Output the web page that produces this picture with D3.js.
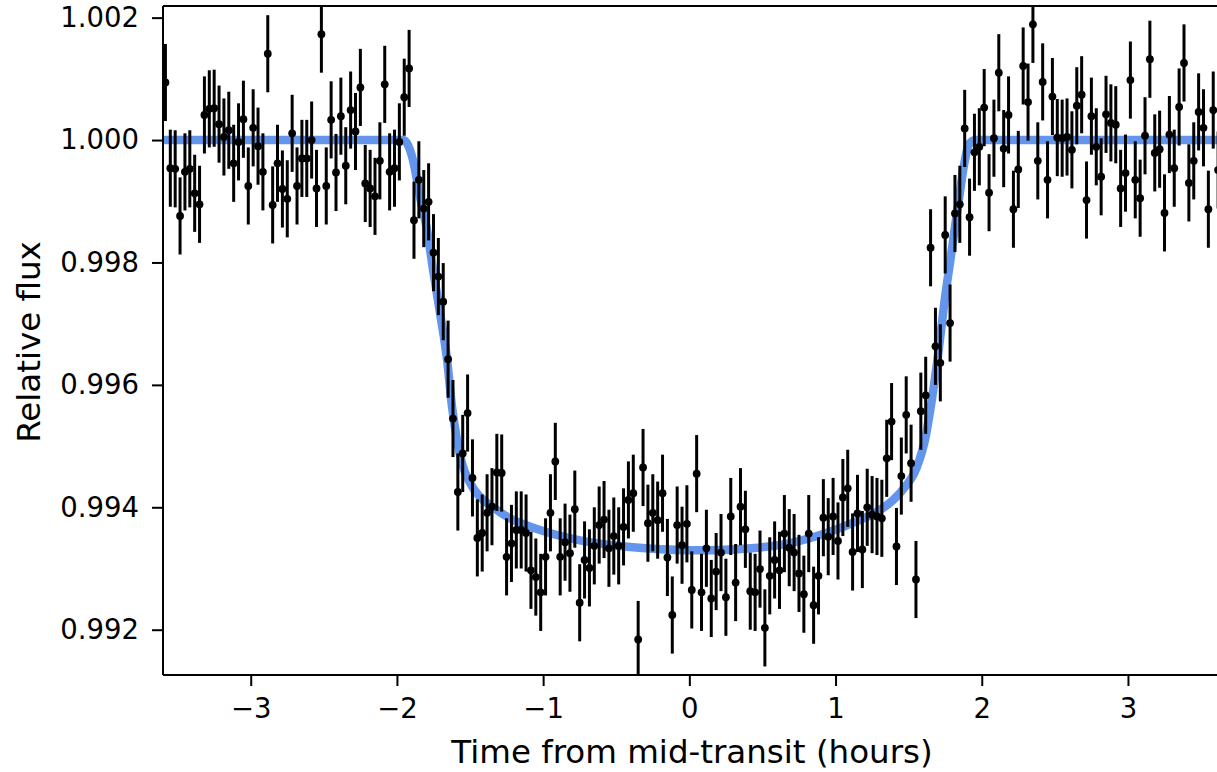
<!DOCTYPE html>
<html>
<head>
<meta charset="utf-8">
<script src="https://cdnjs.cloudflare.com/ajax/libs/d3/7.8.5/d3.min.js"></script>
<style>
body { margin: 0; background: #fff; }
svg { display: block; font-family: "DejaVu Sans", sans-serif; }
</style>
</head>
<body>
<svg id="chart"></svg>
<script>
var screen = {width: 1217, height: 772}
var plot = {left: 163, top: 6, right: 1218.6, bottom: 675}

// time from mid-transit, minutes (2-min cadence)
var timeMin = [
 -215,-213,-211,-209,-207,-205,-203,-201,-199,-197,
 -195,-193,-191,-189,-187,-185,-183,-181,-179,-177,
 -175,-173,-171,-169,-167,-165,-163,-161,-159,-157,
 -155,-153,-151,-149,-147,-145,-143,-141,-139,-137,
 -135,-133,-131,-129,-127,-125,-123,-121,-119,-117,
 -115,-113,-111,-109,-107,-105,-103,-101,-99,-97,
 -95,-93,-91,-89,-87,-85,-83,-81,-79,-77,
 -75,-73,-71,-69,-67,-65,-63,-61,-59,-57,
 -55,-53,-51,-49,-47,-45,-43,-41,-39,-37,
 -35,-33,-31,-29,-27,-25,-23,-21,-19,-17,
 -15,-13,-11,-9,-7,-5,-3,-1,1,3,
 5,7,9,11,13,15,17,19,21,23,
 25,27,29,31,33,35,37,39,41,43,
 45,47,49,51,53,55,57,59,61,63,
 65,67,69,71,73,75,77,79,81,83,
 85,87,89,91,93,95,97,99,101,103,
 105,107,109,111,113,115,117,119,121,123,
 125,127,129,131,133,135,137,139,141,143,
 145,147,149,151,153,155,157,159,161,163,
 165,167,169,171,173,175,177,179,181,183,
 185,187,189,191,193,195,197,199,201,203,
 205,207,209,211,213,215,217
]

var flux = [
 1.00094,0.99954,0.99953,0.99876,0.99948,0.99953,0.99913,0.99895,1.00041,1.00051,
 1.00052,1.00026,1.00005,1.00016,0.99962,0.99997,1.00034,0.99925,1.00020,0.99990,
 0.99948,1.00141,0.99894,0.99962,0.99920,0.99904,1.00011,0.99925,0.99970,0.99970,
 1.00000,0.99921,1.00173,0.99925,1.00033,0.99947,1.00039,0.99958,1.00049,1.00014,
 1.00086,0.99929,0.99921,0.99908,0.99966,1.00091,0.99948,0.99954,0.99997,1.00070,
 1.00117,0.99869,0.99935,0.99888,0.99899,0.99816,0.99777,0.99736,0.99642,0.99545,
 0.99425,0.99488,0.99554,0.99448,0.99350,0.99358,0.99391,0.99401,0.99457,0.99456,
 0.99319,0.99341,0.99363,0.99363,0.99358,0.99297,0.99286,0.99261,0.99319,0.99391,
 0.99475,0.99319,0.99343,0.99325,0.99397,0.99244,0.99314,0.99301,0.99337,0.99371,
 0.99380,0.99333,0.99353,0.99337,0.99368,0.99412,0.99423,0.99184,0.99465,0.99374,
 0.99391,0.99379,0.99423,0.99318,0.99224,0.99371,0.99338,0.99373,0.99265,0.99455,
 0.99261,0.99333,0.99251,0.99295,0.99326,0.99253,0.99385,0.99277,0.99401,0.99364,
 0.99263,0.99261,0.99299,0.99203,0.99288,0.99314,0.99297,0.99357,0.99334,0.99326,
 0.99292,0.99258,0.99357,0.99240,0.99288,0.99383,0.99352,0.99385,0.99345,0.99416,
 0.99431,0.99327,0.99390,0.99331,0.99400,0.99388,0.99385,0.99382,0.99480,0.99540,
 0.99336,0.99451,0.99551,0.99472,0.99282,0.99557,0.99583,0.99824,0.99663,0.99636,
 0.99845,0.99701,0.99880,0.99895,1.00019,0.99874,0.99980,0.99989,1.00053,0.99914,
 1.00003,1.00110,0.99986,1.00041,0.99887,0.99952,1.00121,1.00062,1.00189,0.99966,
 1.00095,0.99935,1.00071,1.00004,1.00003,1.00005,0.99984,1.00056,1.00074,0.99902,
 1.00039,0.99989,0.99940,1.00042,1.00028,1.00025,0.99921,0.99946,1.00098,0.99935,
 0.99905,1.00007,1.00132,0.99979,0.99985,0.99881,1.00009,0.99954,1.00054,1.00126,
 0.99930,0.99966,1.00046,1.00020,0.99887,1.00049,0.99951
]
var fluxErr = 0.00063

// transit model (hours, relative flux)
var modelHours = [-3.6, -1.958, -1.925, -1.89, -1.842, -1.794, -1.753, -1.705, -1.657,
  -1.623, -1.589, -1.555, -1.5, -1.432, -1.343, -1.227, -1.021, -0.748, -0.406, 0,
  0.15, 0.424, 0.698, 0.937, 1.163, 1.279, 1.395, 1.484, 1.539, 1.573, 1.607, 1.655,
  1.703, 1.744, 1.792, 1.84, 1.881, 1.91, 1.955, 3.62]
var modelFlux = [1.0, 1.0, 0.99992, 0.99967, 0.99907, 0.99853, 0.99788, 0.99717, 0.99641,
  0.99564, 0.9951, 0.99472, 0.9944, 0.99417, 0.994, 0.99382, 0.99363, 0.99346, 0.99335, 0.9933,
  0.9933, 0.99333, 0.99342, 0.99358, 0.99379, 0.99392, 0.99412, 0.99436, 0.99456, 0.99477,
  0.99505, 0.9957, 0.99652, 0.99734, 0.99815, 0.99897, 0.99962, 0.99992, 1.0, 1.0]

var xTicks = [-3, -2, -1, 0, 1, 2, 3]
var yTicks = [0.992, 0.994, 0.996, 0.998, 1.000, 1.002]

var svg = d3.select("#chart")
    .attr("width", screen.width)
    .attr("height", screen.height)

var xScale = d3.scaleLinear().domain([-3.6, 3.62]).range([plot.left, plot.right])
var yScale = d3.scaleLinear().domain([0.99126, 1.00219]).range([plot.bottom, plot.top])

svg.append("clipPath").attr("id", "clip")
    .append("rect")
    .attr("x", plot.left).attr("y", plot.top)
    .attr("width", plot.right - plot.left).attr("height", plot.bottom - plot.top)

var points = timeMin.map(function(m, i){ return {t: m / 60, f: flux[i]} })
var model = modelHours.map(function(h, i){ return {t: h, f: modelFlux[i]} })

var inner = svg.append("g").attr("clip-path", "url(#clip)")

// model curve
inner.append("path")
    .datum(model)
    .attr("fill", "none")
    .attr("stroke", "#6495ed")
    .attr("stroke-width", 8.5)
    .attr("stroke-linejoin", "round")
    .attr("d", d3.line()
        .x(function(d){ return xScale(d.t) })
        .y(function(d){ return yScale(d.f) })
        .curve(d3.curveMonotoneX))

// error bars
inner.selectAll("line.err")
    .data(points)
    .enter()
    .append("line")
    .attr("class", "err")
    .attr("x1", function(d){ return xScale(d.t) })
    .attr("x2", function(d){ return xScale(d.t) })
    .attr("y1", function(d){ return yScale(d.f - fluxErr) })
    .attr("y2", function(d){ return yScale(d.f + fluxErr) })
    .attr("stroke", "#000")
    .attr("stroke-width", 3)

inner.selectAll("circle")
    .data(points)
    .enter()
    .append("circle")
    .attr("cx", function(d){ return xScale(d.t) })
    .attr("cy", function(d){ return yScale(d.f) })
    .attr("r", 3.9)
    .attr("fill", "#000")

// axes
var xAxis = d3.axisBottom(xScale).tickValues(xTicks).tickSize(11).tickPadding(12)
    .tickFormat(d3.format("d"))
var yAxis = d3.axisLeft(yScale).tickValues(yTicks).tickSize(11).tickPadding(13)
    .tickFormat(d3.format(".3f"))

var gx = svg.append("g")
    .attr("transform", "translate(0," + plot.bottom + ")")
    .call(xAxis)
var gy = svg.append("g")
    .attr("transform", "translate(" + plot.left + ",0)")
    .call(yAxis)

svg.selectAll(".domain").remove()
svg.selectAll(".tick line").attr("stroke", "#000").attr("stroke-width", 2)
svg.selectAll(".tick text")
    .attr("fill", "#000")
    .style("font-family", "'DejaVu Sans', sans-serif")
    .style("font-size", "27.5px")

// spines
svg.append("line").attr("x1", plot.left).attr("x2", plot.left)
    .attr("y1", plot.top).attr("y2", plot.bottom)
    .attr("stroke", "#000").attr("stroke-width", 2)
svg.append("line").attr("x1", plot.left).attr("x2", screen.width)
    .attr("y1", plot.bottom).attr("y2", plot.bottom)
    .attr("stroke", "#000").attr("stroke-width", 2)
svg.append("line").attr("x1", plot.left).attr("x2", screen.width)
    .attr("y1", plot.top).attr("y2", plot.top)
    .attr("stroke", "#000").attr("stroke-width", 2)

// axis labels
svg.append("text")
    .attr("x", 692)
    .attr("y", 763)
    .attr("text-anchor", "middle")
    .style("font-size", "32.5px")
    .text("Time from mid-transit (hours)")

svg.append("text")
    .attr("transform", "translate(40,342) rotate(-90)")
    .attr("text-anchor", "middle")
    .style("font-size", "32.5px")
    .text("Relative flux")
</script>
</body>
</html>
